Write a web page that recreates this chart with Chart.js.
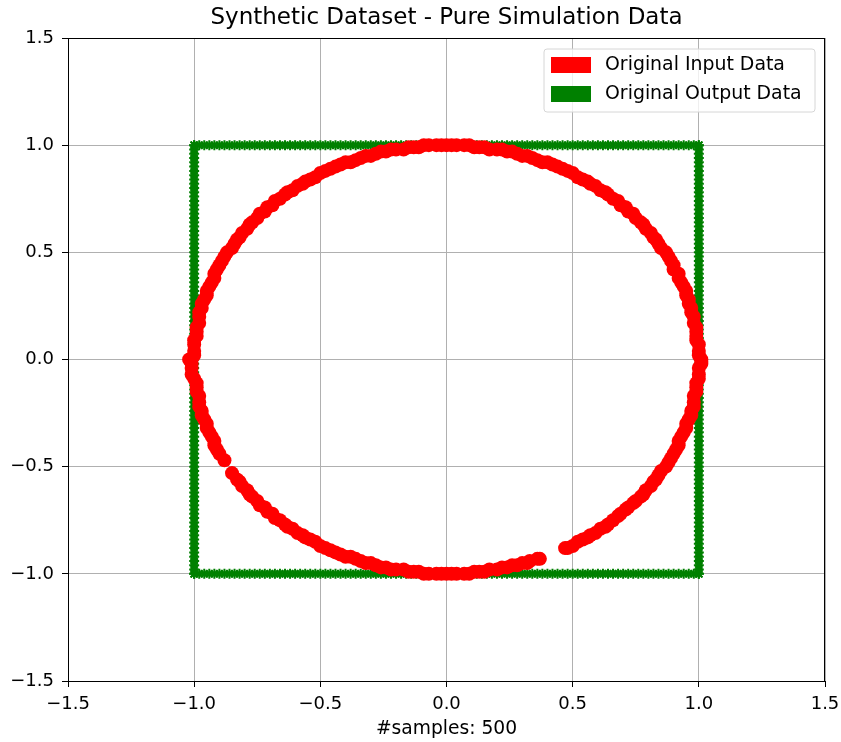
<!DOCTYPE html>
<html>
<head>
<meta charset="utf-8">
<title>Synthetic Dataset - Pure Simulation Data</title>
<script src="https://cdn.jsdelivr.net/npm/chart.js@4/dist/chart.umd.min.js"></script>
<style>
  html, body { margin: 0; padding: 0; background: #ffffff; }
  canvas { display: block; }
</style>
</head>
<body>
<canvas id="scatter-chart" width="841" height="742"></canvas>
<script>
const chartTitle = "Synthetic Dataset - Pure Simulation Data";
const xAxisLabel = "#samples: 500";
const seriesNames = ["Original Input Data", "Original Output Data"];
const axisTicks = [-1.5, -1.0, -0.5, 0.0, 0.5, 1.0, 1.5];

// red points (x, y)
const inputPoints = [
  [1.01, 0.00], [1.00, 0.04], [0.99, 0.09], [0.99, 0.13], [0.98, 0.17], [0.97, 0.22],
  [0.96, 0.26], [0.95, 0.30], [0.94, 0.34], [0.92, 0.38], [0.90, 0.42], [0.89, 0.46],
  [0.87, 0.50], [0.84, 0.54], [0.82, 0.57], [0.79, 0.61], [0.77, 0.64], [0.74, 0.68],
  [0.71, 0.71], [0.68, 0.74], [0.64, 0.77], [0.61, 0.79], [0.57, 0.82], [0.54, 0.84],
  [0.50, 0.87], [0.46, 0.89], [0.42, 0.91], [0.38, 0.92], [0.34, 0.94], [0.30, 0.95],
  [0.26, 0.97], [0.22, 0.98], [0.17, 0.98], [0.13, 0.99], [0.09, 1.00], [0.04, 1.00],
  [0.00, 1.00], [-0.04, 1.00], [-0.09, 1.00], [-0.13, 0.99], [-0.17, 0.98], [-0.22, 0.98],
  [-0.26, 0.97], [-0.30, 0.95], [-0.34, 0.94], [-0.38, 0.92], [-0.42, 0.91], [-0.46, 0.89],
  [-0.50, 0.87], [-0.54, 0.84], [-0.57, 0.82], [-0.61, 0.79], [-0.64, 0.77], [-0.68, 0.74],
  [-0.71, 0.71], [-0.74, 0.68], [-0.77, 0.64], [-0.79, 0.61], [-0.82, 0.57], [-0.84, 0.54],
  [-0.87, 0.50], [-0.89, 0.46], [-0.91, 0.42], [-0.92, 0.38], [-0.94, 0.34], [-0.95, 0.30],
  [-0.97, 0.26], [-0.98, 0.22], [-0.98, 0.17], [-0.99, 0.13], [-1.00, 0.09], [-1.00, 0.04],
  [-1.02, 0.00], [-1.01, -0.04], [-1.00, -0.09], [-0.99, -0.13], [-0.98, -0.17], [-0.98, -0.22],
  [-0.97, -0.26], [-0.95, -0.30], [-0.94, -0.34], [-0.92, -0.38], [-0.91, -0.42], [-0.88, -0.47],
  [-0.85, -0.53], [-0.82, -0.57], [-0.79, -0.61], [-0.77, -0.64], [-0.74, -0.68], [-0.71, -0.71],
  [-0.68, -0.74], [-0.64, -0.77], [-0.61, -0.79], [-0.57, -0.82], [-0.54, -0.84], [-0.50, -0.87],
  [-0.46, -0.89], [-0.42, -0.91], [-0.38, -0.92], [-0.34, -0.94], [-0.30, -0.95], [-0.26, -0.97],
  [-0.22, -0.98], [-0.17, -0.98], [-0.13, -0.99], [-0.09, -1.00], [-0.04, -1.00],
  [0.00, -1.00], [0.04, -1.00], [0.09, -1.00], [0.13, -0.99], [0.17, -0.98], [0.22, -0.97],
  [0.26, -0.96], [0.30, -0.95], [0.33, -0.94], [0.37, -0.93], [0.47, -0.88], [0.50, -0.87],
  [0.54, -0.84], [0.57, -0.82], [0.61, -0.79], [0.64, -0.77], [0.68, -0.73], [0.71, -0.70],
  [0.74, -0.67], [0.77, -0.64], [0.79, -0.61], [0.82, -0.57], [0.84, -0.54], [0.87, -0.50],
  [0.89, -0.46], [0.91, -0.42], [0.92, -0.38], [0.94, -0.34], [0.95, -0.30], [0.97, -0.26],
  [0.98, -0.22], [0.98, -0.17], [0.99, -0.13], [1.00, -0.09], [1.00, -0.04], [1.01, -0.02],
];

// more red points lying between the ones above
const inputPointsExtra = [
  [1.00, 0.02], [1.00, 0.07], [0.99, 0.11], [0.99, 0.15], [0.98, 0.20], [0.97, 0.24],
  [0.96, 0.28], [0.95, 0.32], [0.93, 0.36], [0.92, 0.40], [0.90, 0.44], [0.88, 0.48],
  [0.85, 0.52], [0.83, 0.56], [0.81, 0.59], [0.78, 0.63], [0.75, 0.66], [0.72, 0.69],
  [0.69, 0.72], [0.66, 0.75], [0.63, 0.78], [0.59, 0.81], [0.56, 0.83], [0.52, 0.85],
  [0.48, 0.88], [0.44, 0.90], [0.40, 0.92], [0.36, 0.93], [0.32, 0.95], [0.28, 0.96],
  [0.24, 0.97], [0.20, 0.98], [0.15, 0.99], [0.11, 0.99], [0.07, 1.00], [0.02, 1.00],
  [-1.00, 0.02], [-1.00, 0.07], [-0.99, 0.11], [-0.99, 0.15], [-0.98, 0.20], [-0.97, 0.24],
  [-0.96, 0.28], [-0.95, 0.32], [-0.93, 0.36], [-0.92, 0.40], [-0.90, 0.44], [-0.88, 0.48],
  [-0.85, 0.52], [-0.83, 0.56], [-0.81, 0.59], [-0.78, 0.63], [-0.75, 0.66], [-0.72, 0.69],
  [-0.69, 0.72], [-0.66, 0.75], [-0.63, 0.78], [-0.59, 0.81], [-0.56, 0.83], [-0.52, 0.85],
  [-0.48, 0.88], [-0.44, 0.90], [-0.40, 0.92], [-0.36, 0.93], [-0.32, 0.95], [-0.28, 0.96],
  [-0.24, 0.97], [-0.20, 0.98], [-0.15, 0.99], [-0.11, 0.99], [-0.07, 1.00], [-0.02, 1.00],
  [-1.01, -0.02], [-1.01, -0.07], [-0.99, -0.11], [-0.99, -0.15], [-0.98, -0.20], [-0.97, -0.24],
  [-0.96, -0.28], [-0.95, -0.32], [-0.93, -0.36], [-0.92, -0.40], [-0.90, -0.44],
  [-0.83, -0.56], [-0.81, -0.59], [-0.78, -0.63], [-0.75, -0.66], [-0.72, -0.69],
  [-0.69, -0.72], [-0.66, -0.75], [-0.63, -0.78], [-0.59, -0.81], [-0.56, -0.83], [-0.52, -0.85],
  [-0.48, -0.88], [-0.44, -0.90], [-0.40, -0.92], [-0.36, -0.93], [-0.32, -0.95], [-0.28, -0.96],
  [-0.24, -0.97], [-0.20, -0.98], [-0.15, -0.99], [-0.11, -0.99], [-0.07, -1.00], [-0.02, -1.00],
  [1.01, -0.01], [1.00, -0.07], [0.99, -0.11], [0.99, -0.15], [0.98, -0.20], [0.97, -0.24],
  [0.96, -0.28], [0.95, -0.32], [0.93, -0.36], [0.92, -0.40], [0.90, -0.44], [0.88, -0.48],
  [0.85, -0.52], [0.83, -0.56], [0.81, -0.59], [0.78, -0.63], [0.75, -0.66], [0.72, -0.69],
  [0.69, -0.72], [0.66, -0.75], [0.63, -0.78], [0.59, -0.81], [0.56, -0.83], [0.52, -0.85],
  [0.48, -0.88], [0.36, -0.93], [0.32, -0.95], [0.28, -0.96],
  [0.24, -0.97], [0.20, -0.98], [0.15, -0.99], [0.11, -0.99], [0.07, -1.00], [0.02, -1.00],
];

// green points sit on the square edges, at these positions along each side
const edgePositions = [
  -1.00, -0.98, -0.96, -0.94, -0.92, -0.90, -0.88, -0.86, -0.84, -0.82,
  -0.80, -0.78, -0.76, -0.74, -0.72, -0.70, -0.68, -0.66, -0.64, -0.62,
  -0.60, -0.58, -0.56, -0.54, -0.52, -0.50, -0.48, -0.46, -0.44, -0.42,
  -0.40, -0.38, -0.36, -0.34, -0.32, -0.30, -0.28, -0.26, -0.24, -0.22,
  -0.20, -0.18, -0.16, -0.14, -0.12, -0.10, -0.08, -0.06, -0.04, -0.02,
  0.00, 0.02, 0.04, 0.06, 0.08, 0.10, 0.12, 0.14, 0.16, 0.18,
  0.20, 0.22, 0.24, 0.26, 0.28, 0.30, 0.32, 0.34, 0.36, 0.38,
  0.40, 0.42, 0.44, 0.46, 0.48, 0.50, 0.52, 0.54, 0.56, 0.58,
  0.60, 0.62, 0.64, 0.66, 0.68, 0.70, 0.72, 0.74, 0.76, 0.78,
  0.80, 0.82, 0.84, 0.86, 0.88, 0.90, 0.92, 0.94, 0.96, 0.98, 1.00,
];
const squareSides = [-1.0, 1.0];

const seriesColors = ["#ff0000", "#008000"];
const FONT = "'DejaVu Sans', sans-serif";

function buildOutputPoints() {
  const pts = [];
  squareSides.forEach((side) => {
    edgePositions.forEach((v) => {
      pts.push({ x: v, y: side });
      pts.push({ x: side, y: v });
    });
  });
  return pts;
}

function formatTick(value) {
  return value.toFixed(1).replace("-", "\u2212");
}

// title, x label, frame and boxed legend drawn like matplotlib
const decorPlugin = {
  id: "decor",
  afterDraw(chart) {
    const ctx = chart.ctx;
    const area = chart.chartArea;
    const midX = (area.left + area.right) / 2;
    ctx.save();

    ctx.strokeStyle = "#000000";
    ctx.lineWidth = 1;
    ctx.strokeRect(area.left + 0.5, area.top + 0.5, area.right - area.left - 1, area.bottom - area.top);

    ctx.fillStyle = "#000000";
    ctx.textAlign = "center";
    ctx.textBaseline = "middle";
    ctx.font = "23px " + FONT;
    ctx.fillText(chartTitle, midX, 18);
    ctx.font = "18.7px " + FONT;
    ctx.fillText(xAxisLabel, midX, 729);

    // legend box
    const box = { x: 544, y: 49, w: 271, h: 63 };
    ctx.globalAlpha = 0.8;
    ctx.fillStyle = "#ffffff";
    ctx.beginPath();
    ctx.roundRect(box.x, box.y, box.w, box.h, 3);
    ctx.fill();
    ctx.globalAlpha = 1;
    ctx.strokeStyle = "#d6d6d6";
    ctx.stroke();

    ctx.textAlign = "left";
    ctx.font = "18.9px " + FONT;
    seriesNames.forEach((name, i) => {
      const cy = 65 + i * 29;
      ctx.fillStyle = seriesColors[i];
      ctx.fillRect(551, cy - 8, 40, 16);
      ctx.fillStyle = "#000000";
      ctx.fillText(name, 605, cy);
    });
    ctx.restore();
  },
};

function axisOptions(fitKey, fitSize, pad) {
  return {
    type: "linear",
    min: -1.5,
    max: 1.5,
    afterBuildTicks(scale) {
      scale.ticks = axisTicks.map((v) => ({ value: v }));
    },
    afterFit(scale) {
      scale[fitKey] = fitSize;
      // let the end labels hang over, as matplotlib does
      scale.paddingLeft = 0;
      scale.paddingRight = 0;
      scale.paddingTop = 0;
      scale.paddingBottom = 0;
    },
    ticks: {
      color: "#000000",
      padding: pad,
      font: { family: FONT, size: 18 },
      callback: (value) => formatTick(value),
    },
    grid: {
      color: "#b0b0b0",
      lineWidth: 1,
      tickColor: "#000000",
      tickLength: 6,
    },
    border: { display: true, color: "#000000" },
  };
}

function initializeChart() {
  const ctx = document.getElementById("scatter-chart");
  if (!ctx) return;

  new Chart(ctx, {
    type: "scatter",
    data: {
      datasets: [
        {
          label: seriesNames[0],
          data: inputPoints.concat(inputPointsExtra).map(([x, y]) => ({ x, y })),
          pointStyle: "circle",
          pointRadius: 7,
          backgroundColor: seriesColors[0],
          borderColor: seriesColors[0],
          borderWidth: 0,
        },
        {
          label: seriesNames[1],
          data: buildOutputPoints(),
          pointStyle: "star",
          pointRadius: 5,
          backgroundColor: seriesColors[1],
          borderColor: seriesColors[1],
          borderWidth: 2,
        },
      ],
    },
    options: {
      responsive: false,
      animation: false,
      devicePixelRatio: 1,
      layout: { padding: { top: 38, right: 16, left: 0, bottom: 0 } },
      plugins: {
        legend: { display: false },
        title: { display: false },
        tooltip: { enabled: false },
      },
      scales: {
        x: axisOptions("height", 61, 7),
        y: axisOptions("width", 68, 8),
      },
    },
    plugins: [decorPlugin],
  });
}

if (document.readyState === "loading") {
  document.addEventListener("DOMContentLoaded", initializeChart);
} else {
  initializeChart();
}
</script>
</body>
</html>
